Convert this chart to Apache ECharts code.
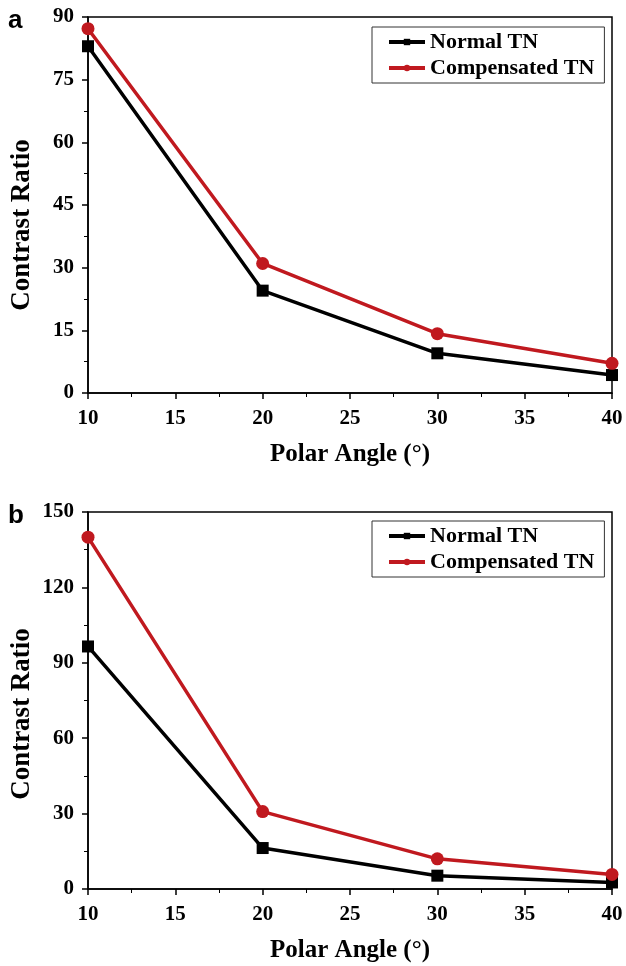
<!DOCTYPE html>
<html><head><meta charset="utf-8">
<script src="https://cdn.jsdelivr.net/npm/echarts@6/dist/echarts.min.js"></script>
<style>html,body{margin:0;padding:0;background:#fff}#c{width:626px;height:966px}</style>
</head><body><div id="c"></div>
<script>
const angles = [10, 20, 30, 40];
const normalA = [83, 24.5, 9.5, 4.3];
const compA = [87.2, 31, 14.2, 7.1];
const normalB = [96.5, 16.3, 5.3, 2.6];
const compB = [140, 30.8, 12, 5.8];
const yTicksA = {min: 0, max: 90, interval: 15};
const yTicksB = {min: 0, max: 150, interval: 30};
const xTicks = {min: 10, max: 40, interval: 5};

const serif = '"Liberation Serif", "Times New Roman", serif';
const BLACK = '#000000', RED = '#c0191f';

function pairs(xs, ys){ return xs.map((x,i)=>[x, ys[i]]); }

function xAxis(gi){
  return {gridIndex: gi, type: 'value', min: xTicks.min, max: xTicks.max, interval: xTicks.interval,
    name: 'Polar Angle (°)', nameLocation: 'middle', nameGap: 49,
    nameTextStyle: {fontFamily: serif, fontWeight: 'bold', fontSize: 25, color: '#000'},
    axisLine: {lineStyle: {color: '#000', width: 1.5}},
    axisTick: {show: true, inside: false, length: 6, lineStyle: {color: '#000', width: 1.5}},
    minorTick: {show: true, splitNumber: 2, length: 4, lineStyle: {color: '#000', width: 1}},
    axisLabel: {fontFamily: serif, fontWeight: 'bold', fontSize: 21, color: '#000', margin: 15},
    splitLine: {show: false}};
}
function yAxis(gi, t){
  return {gridIndex: gi, type: 'value', min: t.min, max: t.max, interval: t.interval,
    axisLine: {show: true, lineStyle: {color: '#000', width: 1.5}},
    axisTick: {show: true, inside: false, length: 6, lineStyle: {color: '#000', width: 1.5}},
    minorTick: {show: true, splitNumber: 2, length: 4, lineStyle: {color: '#000', width: 1}},
    axisLabel: {fontFamily: serif, fontWeight: 'bold', fontSize: 21, color: '#000', margin: 14},
    splitLine: {show: false}};
}
function line(name, gi, ys, color, symbol, size){
  return {name: name, type: 'line', xAxisIndex: gi, yAxisIndex: gi, data: pairs(angles, ys),
    symbol: symbol, symbolSize: size, color: color,
    lineStyle: {color: color, width: 3.5}, itemStyle: {color: color}, clip: false, animation: false};
}
const legendCommon = {orient: 'vertical', itemWidth: 36, itemHeight: 8, itemGap: 4,
  lineStyle: {width: 4},
  backgroundColor: '#fff', borderColor: '#333', borderWidth: 1, padding: [4, 10, 4, 15],
  textStyle: {fontFamily: serif, fontWeight: 'bold', fontSize: 22, color: '#000'}};

const chart = echarts.init(document.getElementById('c'), null, {renderer: 'canvas'});
chart.setOption({
  animation: false,
  backgroundColor: '#fff',
  grid: [
    {left: 88, top: 17, width: 524, height: 376, show: true, borderColor: '#000', borderWidth: 1.5, backgroundColor: 'transparent'},
    {left: 88, top: 512, width: 524, height: 377, show: true, borderColor: '#000', borderWidth: 1.5, backgroundColor: 'transparent'}
  ],
  xAxis: [xAxis(0), xAxis(1)],
  yAxis: [yAxis(0, yTicksA), yAxis(1, yTicksB)],
  legend: [
    Object.assign({}, legendCommon, {left: 372, top: 27, data: ['Normal TN', 'Compensated TN']}),
    Object.assign({}, legendCommon, {left: 372, top: 521, data: ['Normal TN', 'Compensated TN']})
  ],
  graphic: [
    {type: 'text', left: 8, top: 8, style: {text: 'a', font: 'bold 26px "Liberation Sans", Arial, sans-serif', fill: '#000'}},
    {type: 'text', left: 8, top: 503, style: {text: 'b', font: 'bold 26px "Liberation Sans", Arial, sans-serif', fill: '#000'}},
    {type: 'text', x: 22, y: 225, rotation: Math.PI / 2,
      style: {text: 'Contrast Ratio', align: 'center', verticalAlign: 'middle', font: 'bold 27px "Liberation Serif", serif', fill: '#000'}},
    {type: 'text', x: 22, y: 714, rotation: Math.PI / 2,
      style: {text: 'Contrast Ratio', align: 'center', verticalAlign: 'middle', font: 'bold 27px "Liberation Serif", serif', fill: '#000'}}
  ],
  series: [
    line('Normal TN', 0, normalA, BLACK, 'rect', 12),
    line('Compensated TN', 0, compA, RED, 'circle', 13),
    line('Normal TN', 1, normalB, BLACK, 'rect', 12),
    line('Compensated TN', 1, compB, RED, 'circle', 13)
  ]
});
</script></body></html>
